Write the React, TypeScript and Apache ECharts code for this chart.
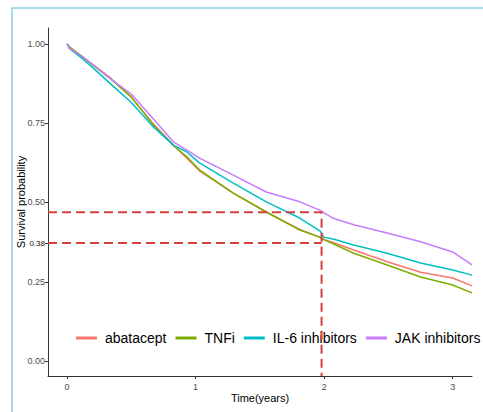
import React, { useEffect, useRef } from "react";
import * as echarts from "echarts";

const seriesNames = ["abatacept", "TNFi", "IL-6 inhibitors", "JAK inhibitors"];
const seriesColors = ["#F8766D", "#7CAE00", "#00BFC4", "#C77CFF"];

const times = [0, 0.02, 0.1, 0.2, 0.33, 0.5, 0.67, 0.83, 0.93, 1.03, 1.29, 1.55, 1.81, 1.97, 2.0, 2.07, 2.23, 2.49, 2.75, 3.0, 3.15];

const abatacept = [1, 0.99, 0.965, 0.935, 0.895, 0.832, 0.748, 0.68, 0.64, 0.6, 0.53, 0.47, 0.415, 0.39, 0.383, 0.374, 0.35, 0.313, 0.28, 0.262, 0.237];
const tnfi = [1, 0.99, 0.965, 0.934, 0.893, 0.833, 0.745, 0.678, 0.645, 0.603, 0.53, 0.47, 0.413, 0.39, 0.382, 0.37, 0.34, 0.303, 0.265, 0.24, 0.215];
const il6 = [1, 0.985, 0.96, 0.925, 0.877, 0.815, 0.739, 0.68, 0.66, 0.625, 0.562, 0.502, 0.451, 0.41, 0.39, 0.385, 0.366, 0.34, 0.309, 0.287, 0.271];
const jak = [1, 0.985, 0.965, 0.935, 0.892, 0.842, 0.764, 0.69, 0.666, 0.64, 0.587, 0.533, 0.502, 0.475, 0.467, 0.45, 0.43, 0.404, 0.376, 0.344, 0.303];

const xTicks = [0, 1, 2, 3];
const yTicks = [0, 0.25, 0.5, 0.75, 1];
const markedValue = 0.372;
const markedLabel = "0.38";

const upperRef = [[-0.148, 0.469], [1.98, 0.469], [1.98, -0.047]];
const lowerRef = [[-0.148, 0.372], [1.98, 0.372]];

const FONT = "'Liberation Sans', Arial, sans-serif";

export default function App() {
  const ref = useRef<HTMLDivElement>(null);
  useEffect(() => {
    if (!ref.current) return;
    const chart = echarts.init(ref.current, null, { renderer: "svg" });
    const all = [abatacept, tnfi, il6, jak];
    const curves = all.map((vals, i) => ({
      name: seriesNames[i],
      type: "line",
      data: times.map((t, j) => [t, vals[j]]),
      showSymbol: false,
      symbol: "none",
      lineStyle: { color: seriesColors[i], width: 1.5 },
      itemStyle: { color: seriesColors[i] },
      z: 3,
    }));
    const dashStyle = { color: "#d2403f", width: 2, type: [9, 5] as any };
    const refSeries = [upperRef, lowerRef].map((d, i) => ({
      name: "ref" + i,
      type: "line",
      data: d,
      showSymbol: false,
      symbol: "none",
      lineStyle: dashStyle,
      z: 10,
      silent: true,
    }));
    chart.setOption({
      animation: false,
      backgroundColor: "#fff",
      textStyle: { fontFamily: FONT },
      graphic: [
        {
          type: "rect",
          shape: { x: 12, y: 8, width: 600, height: 600 },
          style: { fill: "none", stroke: "#8ccfe3", lineWidth: 1.5 },
          silent: true,
        },
      ],
      grid: { left: 48, right: 11, top: 28, bottom: 36 },
      legend: {
        data: seriesNames,
        left: 76,
        top: 331,
        width: 460,
        padding: 0,
        icon: "rect",
        itemWidth: 21,
        itemHeight: 3,
        itemGap: 9,
        textStyle: { fontSize: 14, color: "#000", fontFamily: FONT, padding: [0, 0, 0, 3] },
        z: 2,
      },
      xAxis: {
        type: "value",
        min: -0.148,
        max: 3.15,
        name: "Time(years)",
        nameLocation: "middle",
        nameGap: 16,
        nameMoveOverlap: false,
        nameTextStyle: { fontSize: 11, color: "#000", fontFamily: FONT },
        splitLine: { show: false },
        axisLine: { show: true, onZero: false, lineStyle: { color: "#333", width: 1 } },
        axisTick: { show: true, length: 3, customValues: xTicks, lineStyle: { color: "#333" } },
        axisLabel: { customValues: xTicks, fontSize: 9, color: "#4d4d4d", margin: 6, fontFamily: FONT },
      },
      yAxis: {
        type: "value",
        min: -0.047,
        max: 1.05,
        name: "Survival probability",
        nameLocation: "middle",
        nameGap: 22,
        nameMoveOverlap: false,
        nameTextStyle: { fontSize: 11, color: "#000", fontFamily: FONT },
        splitLine: { show: false },
        axisLine: { show: true, onZero: false, lineStyle: { color: "#333", width: 1 } },
        axisTick: { show: true, length: 3, customValues: [...yTicks, markedValue], lineStyle: { color: "#333" } },
        axisLabel: {
          customValues: [...yTicks, markedValue],
          fontSize: 9,
          color: "#4d4d4d",
          margin: 3,
          fontFamily: FONT,
          formatter: (v: number) =>
            Math.abs(v - markedValue) < 1e-6 ? "{s|" + markedLabel + "}" : v.toFixed(2),
          rich: { s: { fontSize: 8, color: "#111", fontFamily: FONT } },
        },
      },
      series: [...curves, ...refSeries],
    });
    return () => chart.dispose();
  }, []);
  return <div ref={ref} style={{ position: "fixed", left: 0, top: 0, width: 483, height: 412 }} />;
}
